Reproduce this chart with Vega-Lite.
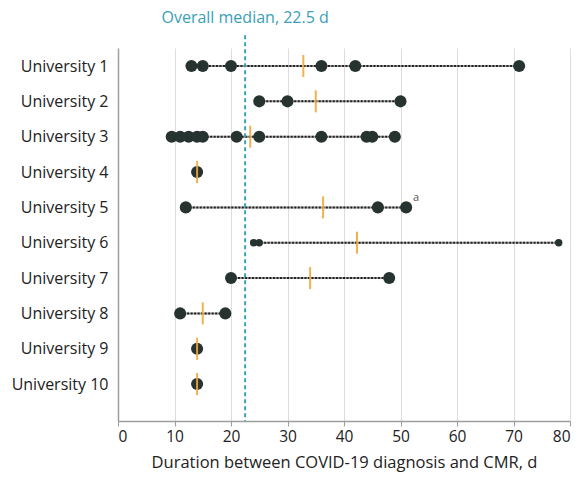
{
  "$schema": "https://vega.github.io/schema/vega-lite/v6.json",
  "width": 452,
  "height": 373,
  "autosize": {"type": "none"},
  "padding": {"left": 118, "top": 48, "right": 11, "bottom": 58},
  "background": "white",
  "config": {
    "view": {"stroke": null},
    "font": "Open Sans",
    "axis": {"labelFont": "Open Sans", "titleFont": "Open Sans"}
  },
  "datasets": {
    "pts": [
      {"university": "University 1", "row": 1, "days": 13},
      {"university": "University 1", "row": 1, "days": 15},
      {"university": "University 1", "row": 1, "days": 20},
      {"university": "University 1", "row": 1, "days": 36},
      {"university": "University 1", "row": 1, "days": 42},
      {"university": "University 1", "row": 1, "days": 71},
      {"university": "University 2", "row": 2, "days": 25},
      {"university": "University 2", "row": 2, "days": 30},
      {"university": "University 2", "row": 2, "days": 50},
      {"university": "University 3", "row": 3, "days": 9.5},
      {"university": "University 3", "row": 3, "days": 11},
      {"university": "University 3", "row": 3, "days": 12.5},
      {"university": "University 3", "row": 3, "days": 14},
      {"university": "University 3", "row": 3, "days": 15},
      {"university": "University 3", "row": 3, "days": 21},
      {"university": "University 3", "row": 3, "days": 25},
      {"university": "University 3", "row": 3, "days": 36},
      {"university": "University 3", "row": 3, "days": 44},
      {"university": "University 3", "row": 3, "days": 45},
      {"university": "University 3", "row": 3, "days": 49},
      {"university": "University 4", "row": 4, "days": 14},
      {"university": "University 5", "row": 5, "days": 12},
      {"university": "University 5", "row": 5, "days": 46},
      {"university": "University 5", "row": 5, "days": 51},
      {"university": "University 6", "row": 6, "days": 24},
      {"university": "University 6", "row": 6, "days": 25},
      {"university": "University 6", "row": 6, "days": 78},
      {"university": "University 7", "row": 7, "days": 20},
      {"university": "University 7", "row": 7, "days": 48},
      {"university": "University 8", "row": 8, "days": 11},
      {"university": "University 8", "row": 8, "days": 19},
      {"university": "University 9", "row": 9, "days": 14},
      {"university": "University 10", "row": 10, "days": 14}
    ],
    "means": [
      {"university": "University 1", "row": 1, "mean": 32.8},
      {"university": "University 2", "row": 2, "mean": 35},
      {"university": "University 3", "row": 3, "mean": 23.4},
      {"university": "University 4", "row": 4, "mean": 14},
      {"university": "University 5", "row": 5, "mean": 36.3},
      {"university": "University 6", "row": 6, "mean": 42.3},
      {"university": "University 7", "row": 7, "mean": 34},
      {"university": "University 8", "row": 8, "mean": 15},
      {"university": "University 9", "row": 9, "mean": 14},
      {"university": "University 10", "row": 10, "mean": 14}
    ],
    "median": [
      {"days": 22.5, "label": "Overall median, 22.5 d", "top": -0.35, "ruleTop": 0.13, "ruleBottom": 11.045}
    ],
    "notes": [
      {"university": "University 5", "row": 5, "days": 51, "note": "a"}
    ]
  },
  "encoding": {
    "y": {
      "field": "row",
      "type": "quantitative",
      "scale": {"domain": [0.49, 11.045], "reverse": true, "nice": false, "zero": false},
      "axis": {
        "values": [1, 2, 3, 4, 5, 6, 7, 8, 9, 10],
        "labelExpr": "'University ' + datum.value",
        "grid": false,
        "ticks": false,
        "title": null,
        "domainColor": "#9e9e9e",
        "domainWidth": 1.5,
        "labelFontSize": 16,
        "labelColor": "#222222",
        "labelPadding": 10
      }
    }
  },
  "layer": [
    {
      "data": {"name": "pts"},
      "transform": [
        {"aggregate": [{"op": "min", "field": "days", "as": "lo"}, {"op": "max", "field": "days", "as": "hi"}], "groupby": ["university", "row"]}
      ],
      "mark": {"type": "rule", "color": "#a0a0a0", "strokeWidth": 2},
      "encoding": {
        "x": {
          "field": "lo",
          "type": "quantitative",
          "scale": {"domain": [0, 80], "nice": false},
          "axis": {
            "values": [0, 10, 20, 30, 40, 50, 60, 70, 80],
            "grid": true,
            "gridColor": "#dddddd",
            "gridWidth": 1,
            "domainColor": "#9e9e9e",
            "domainWidth": 1.5,
            "tickColor": "#9e9e9e",
            "tickSize": 5,
            "labelFontSize": 15.5,
            "labelColor": "#222222",
            "labelPadding": 3,
            "title": "Duration between COVID-19 diagnosis and CMR, d",
            "titleFontSize": 16.5,
            "titleFontWeight": "normal",
            "titleColor": "#222222",
            "titlePadding": 10
          }
        },
        "x2": {"field": "hi"}
      }
    },
    {
      "data": {"name": "pts"},
      "transform": [
        {"aggregate": [{"op": "min", "field": "days", "as": "lo"}, {"op": "max", "field": "days", "as": "hi"}], "groupby": ["university", "row"]}
      ],
      "mark": {"type": "rule", "color": "#222222", "strokeWidth": 2, "strokeDash": [2, 1.5]},
      "encoding": {
        "x": {"field": "lo", "type": "quantitative"},
        "x2": {"field": "hi"}
      }
    },
    {
      "data": {"name": "median"},
      "mark": {"type": "rule", "color": "#3aa3b8", "strokeWidth": 2, "strokeDash": [4, 3]},
      "encoding": {
        "x": {"field": "days", "type": "quantitative"},
        "y": {"field": "ruleTop", "type": "quantitative"},
        "y2": {"field": "ruleBottom"}
      }
    },
    {
      "data": {"name": "median"},
      "mark": {"type": "text", "color": "#3aa0b5", "fontSize": 16, "align": "center", "baseline": "middle"},
      "encoding": {
        "x": {"field": "days", "type": "quantitative"},
        "y": {"field": "top", "type": "quantitative"},
        "text": {"field": "label"}
      }
    },
    {
      "data": {"name": "pts"},
      "mark": {"type": "circle", "color": "#263330", "opacity": 1},
      "encoding": {
        "x": {"field": "days", "type": "quantitative"},
        "size": {
          "condition": {"test": "datum.university === 'University 6'", "value": 55},
          "value": 145
        }
      }
    },
    {
      "data": {"name": "means"},
      "mark": {"type": "tick", "color": "#f2a93b", "orient": "vertical", "size": 22, "thickness": 2, "opacity": 0.9},
      "encoding": {
        "x": {"field": "mean", "type": "quantitative"}
      }
    },
    {
      "data": {"name": "notes"},
      "mark": {"type": "text", "color": "#555555", "fontSize": 11, "dx": 10, "dy": -9},
      "encoding": {
        "x": {"field": "days", "type": "quantitative"},
        "text": {"field": "note"}
      }
    }
  ]
}
